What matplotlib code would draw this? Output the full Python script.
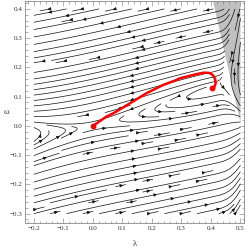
import numpy as np
import matplotlib
matplotlib.use("Agg")
import matplotlib.pyplot as plt
from matplotlib.patches import Polygon
from matplotlib.ticker import MultipleLocator

# ---- data ----
lam_range = [-0.2, 0.5]
om_range = [-0.3, 0.4]
x_ticks = [-0.2, -0.1, 0.0, 0.1, 0.2, 0.3, 0.4, 0.5]
y_ticks = [-0.3, -0.2, -0.1, 0.0, 0.1, 0.2, 0.3, 0.4]
x_ticklabels = ["\u22120.2", "\u22120.1", "0.0", "0.1", "0.2", "0.3", "0.4", "0.5"]
y_ticklabels = ["\u22120.3", "\u22120.2", "\u22120.1", "0.0", "0.1", "0.2", "0.3", "0.4"]

# red trajectory
red_lam = [0.0, 0.046, 0.069, 0.125, 0.182, 0.238, 0.278, 0.295, 0.351, 0.375, 0.395, 0.407, 0.414, 0.416, 0.412, 0.404]
red_om = [0.0, 0.032, 0.043, 0.077, 0.112, 0.140, 0.155, 0.163, 0.177, 0.182, 0.181, 0.173, 0.160, 0.146, 0.134, 0.129]

# grey (excluded) region boundary
grey_lam = [0.4068, 0.5, 0.5]
grey_om = [0.427, 0.01, 0.427]

# vector field model parameters
eps, b, c, a, k, lam0 = 0.2, 0.329, 0.22, 0.181, 470.0, 0.42


def field(L, W):
    P = -W + eps * L + b * L**2
    Q = -c * W + a * L**2 - k * W * np.clip(L - lam0, 0, None) ** 2
    return P, Q


fig = plt.figure(figsize=(2.49, 2.48), dpi=100)
ax = fig.add_axes([25 / 249, 25 / 248, 219 / 249, 222 / 248])

ax.add_patch(Polygon(list(zip(grey_lam, grey_om)), closed=True,
                     facecolor="#c0c0c0", edgecolor="none", zorder=0))

lx = np.linspace(lam_range[0], lam_range[1], 300)
wy = np.linspace(om_range[0], om_range[1], 300)
L, W = np.meshgrid(lx, wy)
P, Q = field(L, W)
ax.streamplot(L, W, P, Q, density=1.3, color="#111111", linewidth=0.5,
              arrowsize=0.45, arrowstyle="-|>", minlength=0.05, zorder=2)

ax.plot(red_lam, red_om, color="#ff0000", lw=1.8, solid_capstyle="round", zorder=3)
ax.plot([red_lam[0], red_lam[-1]], [red_om[0], red_om[-1]], "o", color="#ff0000",
        ms=3.2, zorder=4)

ax.set_xlim(-0.23, 0.512)
ax.set_ylim(-0.332, 0.427)

ax.set_xticks(x_ticks)
ax.set_xticklabels(x_ticklabels)
ax.set_yticks(y_ticks)
ax.set_yticklabels(y_ticklabels)
ax.xaxis.set_minor_locator(MultipleLocator(0.02))
ax.yaxis.set_minor_locator(MultipleLocator(0.02))
ax.tick_params(which="both", direction="in", top=True, right=True, color="#777777",
               width=0.4, labelsize=5, labelcolor="#333333", pad=2)
ax.tick_params(which="major", length=3.5)
ax.tick_params(which="minor", length=1.8)
for lab in ax.get_xticklabels() + ax.get_yticklabels():
    lab.set_family("Liberation Serif")
for s in ax.spines.values():
    s.set_color("#888888")
    s.set_linewidth(0.6)

ax.set_xlabel("\u03bb", family="Liberation Serif", fontsize=6, color="#333333")
ax.set_ylabel("\u03c9", family="Liberation Serif", fontsize=6, color="#333333",
              rotation=0, va="center", ha="center")
ax.xaxis.set_label_coords(0.5, -0.075)
ax.yaxis.set_label_coords(-0.085, 0.5)

fig.savefig("out.png", dpi=100)
